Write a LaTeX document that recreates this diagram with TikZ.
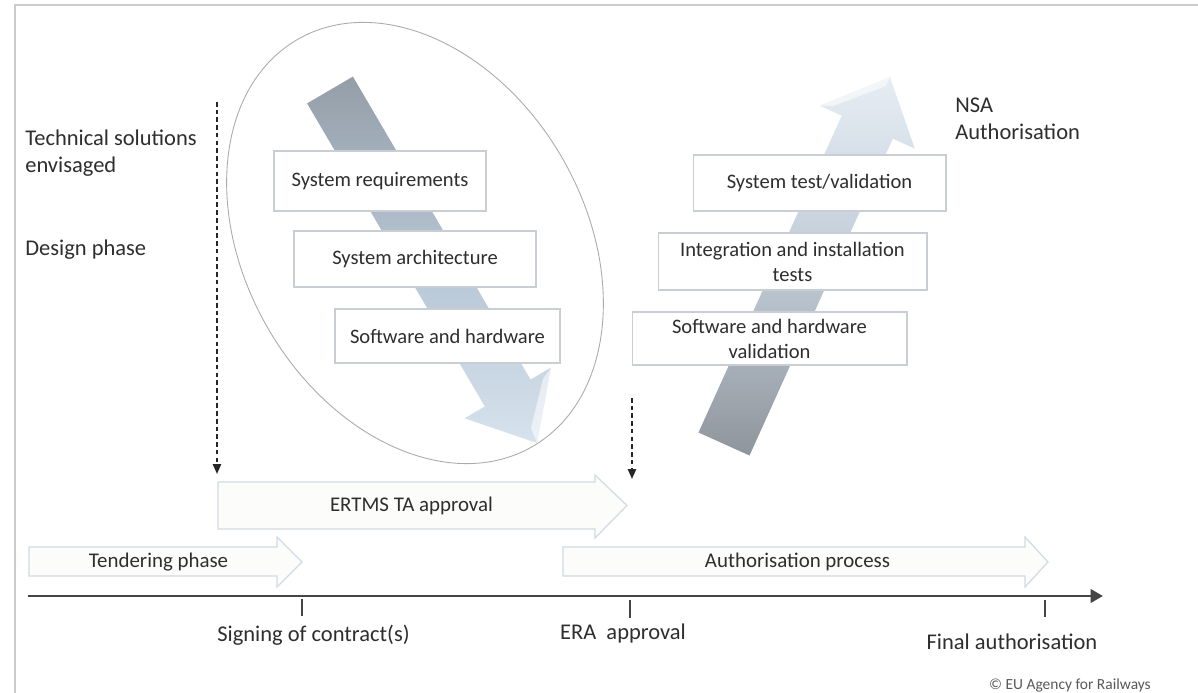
\documentclass[tikz,border=0pt]{standalone}
\usepackage{fontspec}
\setmainfont{Carlito}
\usetikzlibrary{arrows.meta,shadows}

\definecolor{txt}{HTML}{2E2E2E}
\definecolor{boxline}{HTML}{C9CED4}
\definecolor{flowline}{HTML}{D2DAE3}
\definecolor{flowfill}{HTML}{FCFCFA}
\definecolor{axisgray}{HTML}{454545}
\definecolor{framegray}{HTML}{CCCCCC}
\definecolor{ovalgray}{HTML}{ABABAB}
\definecolor{downtop}{HTML}{949EA8}
\definecolor{downmid}{HTML}{B6C5D4}
\definecolor{downbot}{HTML}{D6E2ED}
\definecolor{uptop}{HTML}{E6EDF4}
\definecolor{upmid}{HTML}{C0CBD7}
\definecolor{upbot}{HTML}{8F959C}

\begin{document}
\begin{tikzpicture}[x=0.02cm,y=-0.02cm,
  stagebox/.style={draw=boxline, fill=white, line width=0.6pt, inner sep=0pt,
    align=center, text=txt, font=\fontsize{11.7}{14.2}\selectfont,
    drop shadow={shadow xshift=0.7pt, shadow yshift=-0.7pt, opacity=0.12}},
  flowarrow/.style={draw=flowline, fill=flowfill, line width=0.7pt},
  flowlabel/.style={inner sep=0pt, text=txt, font=\fontsize{11.9}{14.2}\selectfont},
  sidelabel/.style={inner sep=0pt, text=txt, align=left, font=\fontsize{12.8}{15.4}\selectfont},
  milestone/.style={inner sep=0pt, text=txt, font=\fontsize{12.8}{15.4}\selectfont},
  dashedarrow/.style={draw=black!85, line width=1.1pt, dash pattern=on 2.6pt off 1.8pt,
    -{Triangle[length=5.6pt,width=4.6pt]}},
  timeline/.style={draw=axisgray, line width=1.7pt, -{Triangle[length=7pt,width=7.5pt]}},
  tick/.style={draw=axisgray, line width=1.1pt},
  oval/.style={draw=ovalgray, line width=0.5pt},
  framerule/.style={draw=framegray, line width=0.8pt},
  bevel/.style={fill=white, opacity=0.55}
]
\useasboundingbox[fill=white] (0,0) rectangle (1198,693);

% page frame
\draw[framerule] (15,693) -- (15,5) -- (1198,5);

% design-phase oval
\draw[oval, rotate around={30:(415,243)}] (415,243) ellipse [x radius=170, y radius=235];

% descending V-model arrow
\shade[top color=downtop, bottom color=downbot, middle color=downmid]
  (307.1,103.4) -- (484.8,406.4) -- (464.6,418.3) -- (537,443)
  -- (550.8,367.7) -- (530.6,379.6) -- (352.9,76.6) -- cycle;
\fill[bevel] (550.8,367.7) -- (537,443) -- (531,428) -- (543,379) -- cycle;

% ascending V-model arrow
\shade[bottom color=upbot, top color=uptop, middle color=upmid]
  (749.5,455.5) -- (892.8,138.6) -- (914.7,148.5) -- (890,77)
  -- (819.9,105.7) -- (841.8,115.6) -- (698.5,432.5) -- cycle;
\fill[bevel] (890,77) -- (819.9,105.7) -- (833,106) -- (886,86) -- cycle;

% design stages
\node[stagebox, minimum width=4.24cm, minimum height=1.2cm] (sysreq) at (380,181) {System requirements};
\node[stagebox, minimum width=4.84cm, minimum height=1.12cm] (sysarch) at (415,259) {System architecture};
\node[stagebox, minimum width=4.5cm, minimum height=1.08cm] (swhw) at (447.5,336) {Software and hardware};

% validation stages
\node[stagebox, minimum width=5.06cm, minimum height=1.12cm] (systest) at (819.5,183) {System test/validation};
\node[stagebox, minimum width=5.38cm, minimum height=1.14cm] (integ) at (792.5,261.5) {Integration and installation\\tests};
\node[stagebox, minimum width=5.5cm, minimum height=1.06cm] (swhwval) at (769.5,338.5) {Software and hardware\\validation};

% side labels
\node[sidelabel, anchor=west] (techsol) at (25,153.5) {Technical solutions\\envisaged};
\node[sidelabel, anchor=west] (design) at (25,250) {Design phase};
\node[sidelabel, anchor=west] (nsa) at (955,118.5) {NSA\\Authorisation};

% dashed markers
\coordinate (m1s) at (217,102);
\coordinate (m1e) at (217,474);
\coordinate (m2s) at (632,398);
\coordinate (m2e) at (632,479);
\draw[dashedarrow] (m1s) -- (m1e);
\draw[dashedarrow] (m2s) -- (m2e);

% process block arrows
\draw[flowarrow] (218,482) -- (595,482) -- (595,475) -- (627,505.5) -- (595,538) -- (595,529) -- (218,529) -- cycle;
\node[flowlabel] (ertms) at (411.5,506) {ERTMS TA approval};

\draw[flowarrow] (29,547) -- (277,547) -- (277,537) -- (302,562) -- (277,587) -- (277,576) -- (29,576) -- cycle;
\node[flowlabel] (tender) at (158.5,562) {Tendering phase};

\draw[flowarrow] (563,547) -- (1025,547) -- (1025,537) -- (1048,562) -- (1025,587) -- (1025,576) -- (563,576) -- cycle;
\node[flowlabel] (authproc) at (797.5,562) {Authorisation process};

% time axis with milestones
\coordinate (t0) at (28,596);
\coordinate (t1) at (1103,596);
\draw[timeline] (t0) -- (t1);
\coordinate (k1a) at (302,599); \coordinate (k1b) at (302,616);
\coordinate (k2a) at (630,600); \coordinate (k2b) at (630,618);
\coordinate (k3a) at (1045,600); \coordinate (k3b) at (1045,617);
\draw[tick] (k1a) -- (k1b);
\draw[tick] (k2a) -- (k2b);
\draw[tick] (k3a) -- (k3b);

\node[milestone] (signing) at (313.5,635) {Signing of contract(s)};
\node[milestone] (era) at (623,633) {ERA\ \ approval};
\node[milestone] (final) at (1012,642) {Final authorisation};

\node[inner sep=0pt, text=black!65, font=\fontsize{8.8}{10}\selectfont] (copy) at (1070,685) {© EU Agency for Railways};
\end{tikzpicture}
\end{document}
